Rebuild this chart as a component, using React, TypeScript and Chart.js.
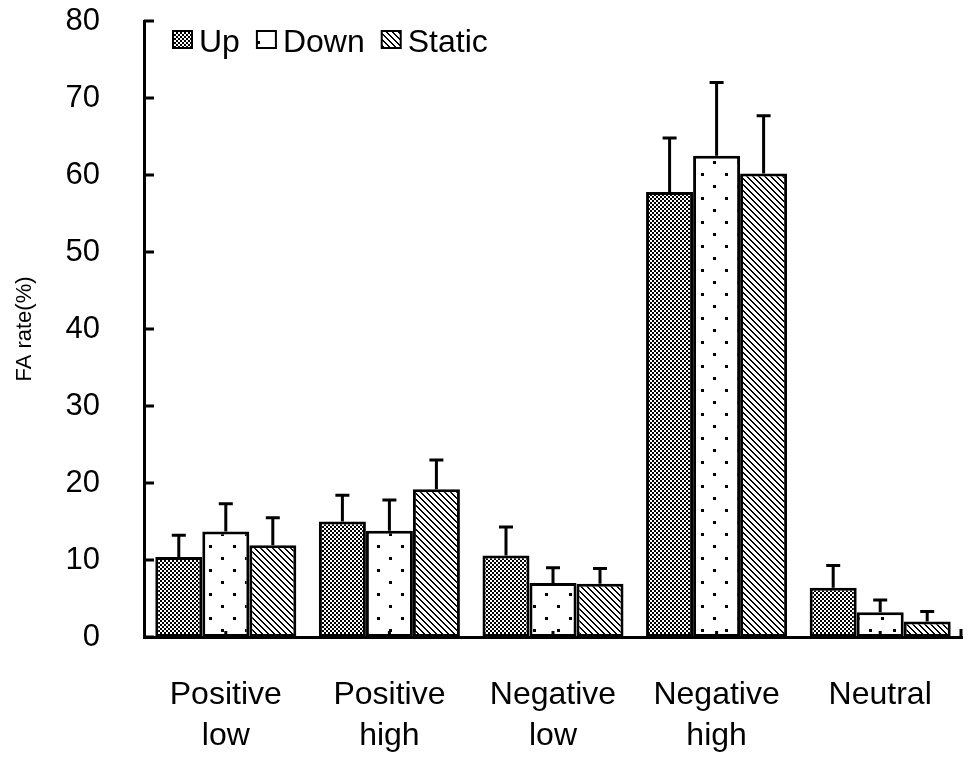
import { useEffect, useRef } from "react";
import { Chart, registerables } from "chart.js";

Chart.register(...registerables);

const categories = [["Positive", "low"], ["Positive", "high"], ["Negative", "low"], ["Negative", "high"], ["Neutral"]];
const seriesNames = ["Up", "Down", "Static"];
const upValues = [10.4, 15.0, 10.6, 57.8, 6.4];
const upErrors = [2.8, 3.4, 3.7, 7.0, 2.9];
const downValues = [13.7, 13.8, 7.0, 62.5, 3.2];
const downErrors = [3.6, 4.0, 2.0, 9.5, 1.6];
const staticValues = [11.9, 19.2, 6.9, 60.2, 2.0];
const staticErrors = [3.6, 3.8, 2.0, 7.5, 1.3];
const yTicks = [0, 10, 20, 30, 40, 50, 60, 70, 80];

const FONT = '"Liberation Sans", Arial, sans-serif';

function makePattern(kind: string): CanvasPattern | string {
  const c = document.createElement("canvas");
  const size = kind === "dots" ? 24 : kind === "checker" ? 4 : 6;
  c.width = size;
  c.height = size;
  const g = c.getContext("2d");
  if (!g) return "#fff";
  g.fillStyle = "#fff";
  g.fillRect(0, 0, size, size);
  g.fillStyle = "#000";
  if (kind === "checker") {
    g.fillRect(0, 0, 2, 2);
    g.fillRect(2, 2, 2, 2);
  } else if (kind === "dots") {
    g.fillRect(5, 5, 3, 3);
    g.fillRect(17, 17, 3, 3);
  } else {
    // "\" hatch
    for (let y = 0; y < size; y++) {
      for (let x = 0; x < size; x++) {
        if ((x - y + size) % size < 2) g.fillRect(x, y, 1, 1);
      }
    }
  }
  return g.createPattern(c, "repeat") || "#fff";
}

const errorBars = {
  id: "errorBars",
  afterDatasetsDraw(chart: any) {
    const ctx = chart.ctx;
    const y = chart.scales.y;
    ctx.save();
    ctx.strokeStyle = "#000";
    ctx.lineWidth = 3;
    chart.data.datasets.forEach((ds: any, i: number) => {
      const meta = chart.getDatasetMeta(i);
      meta.data.forEach((bar: any, j: number) => {
        const top = y.getPixelForValue(ds.data[j] + ds.errors[j]);
        ctx.beginPath();
        ctx.moveTo(bar.x, bar.y);
        ctx.lineTo(bar.x, top);
        ctx.moveTo(bar.x - 7, top);
        ctx.lineTo(bar.x + 7, top);
        ctx.stroke();
      });
    });
    ctx.restore();
  },
};

const innerTicks = {
  id: "innerTicks",
  afterDraw(chart: any) {
    const ctx = chart.ctx;
    const { left, right, bottom } = chart.chartArea;
    const x = chart.scales.x;
    const y = chart.scales.y;
    ctx.save();
    ctx.strokeStyle = "#000";
    ctx.lineWidth = 3;
    ctx.beginPath();
    y.ticks.forEach((_t: any, k: number) => {
      const py = y.getPixelForTick(k);
      ctx.moveTo(left, py);
      ctx.lineTo(left + 10, py);
    });
    x.ticks.forEach((_t: any, k: number) => {
      const px = x.getPixelForTick(k);
      ctx.moveTo(px, bottom);
      ctx.lineTo(px, bottom - 6);
    });
    ctx.moveTo(right - 1, bottom);
    ctx.lineTo(right - 1, bottom - 8);
    ctx.stroke();
    ctx.restore();
  },
};

const boxLegend = {
  id: "boxLegend",
  afterDraw(chart: any) {
    const ctx = chart.ctx;
    const { left, top } = chart.chartArea;
    let cx = left + 29;
    const boxTop = top + 10;
    ctx.save();
    ctx.font = `32px ${FONT}`;
    ctx.textBaseline = "middle";
    chart.data.datasets.forEach((ds: any) => {
      ctx.fillStyle = ds.backgroundColor;
      ctx.fillRect(cx, boxTop, 19, 17);
      ctx.strokeStyle = "#000";
      ctx.lineWidth = 2;
      ctx.strokeRect(cx, boxTop, 19, 17);
      ctx.fillStyle = "#000";
      const tx = cx + 19 + 7;
      ctx.fillText(ds.label, tx, boxTop + 12);
      cx = tx + ctx.measureText(ds.label).width + 17;
    });
    ctx.restore();
  },
};

export default function App() {
  const chartRef = useRef<HTMLCanvasElement>(null);
  const chartInstance = useRef<Chart | null>(null);

  useEffect(() => {
    document.body.style.margin = "0";
    if (!chartRef.current) return;
    if (chartInstance.current) chartInstance.current.destroy();
    const ctx = chartRef.current.getContext("2d");
    if (!ctx) return;

    const fills = [makePattern("checker"), makePattern("dots"), makePattern("diag")];
    const values = [upValues, downValues, staticValues];
    const errors = [upErrors, downErrors, staticErrors];

    chartInstance.current = new Chart(ctx, {
      type: "bar",
      data: {
        labels: categories,
        datasets: seriesNames.map((name, i) => ({
          label: name,
          data: values[i],
          errors: errors[i],
          backgroundColor: fills[i],
          borderColor: "#000",
          borderWidth: 3,
          borderSkipped: false,
          barPercentage: 1,
          categoryPercentage: 0.862,
        })) as any,
      },
      options: {
        responsive: true,
        maintainAspectRatio: false,
        animation: false,
        layout: { padding: { top: 21, right: 8, left: 0, bottom: 0 } },
        plugins: {
          legend: { display: false },
          tooltip: { enabled: false },
        },
        scales: {
          x: {
            grid: { display: false, drawTicks: false },
            border: { display: true, color: "#000", width: 3 },
            ticks: {
              color: "#000",
              font: { family: FONT, size: 32, lineHeight: 1.3 },
              padding: 37,
              maxRotation: 0,
              autoSkip: false,
            },
            afterFit: (scale: any) => {
              scale.height = 120;
            },
          },
          y: {
            min: 0,
            max: 80,
            afterBuildTicks: (scale: any) => {
              scale.ticks = yTicks.map((v) => ({ value: v }));
            },
            grid: { display: false, drawTicks: false },
            border: { display: true, color: "#000", width: 3 },
            ticks: {
              color: "#000",
              font: { family: FONT, size: 31 },
              padding: 44,
            },
            title: {
              display: true,
              text: "FA rate(%)",
              color: "#000",
              font: { family: FONT, size: 22 },
              padding: { top: 12, bottom: 0 },
            },
            afterFit: (scale: any) => {
              scale.width = 144;
              scale.paddingTop = 0;
              scale.paddingBottom = 0;
            },
          },
        },
      },
      plugins: [errorBars, innerTicks, boxLegend],
    });

    return () => {
      if (chartInstance.current) {
        chartInstance.current.destroy();
        chartInstance.current = null;
      }
    };
  }, []);

  return (
    <div style={{ position: "relative", width: 970, height: 757 }}>
      <canvas ref={chartRef} />
    </div>
  );
}
